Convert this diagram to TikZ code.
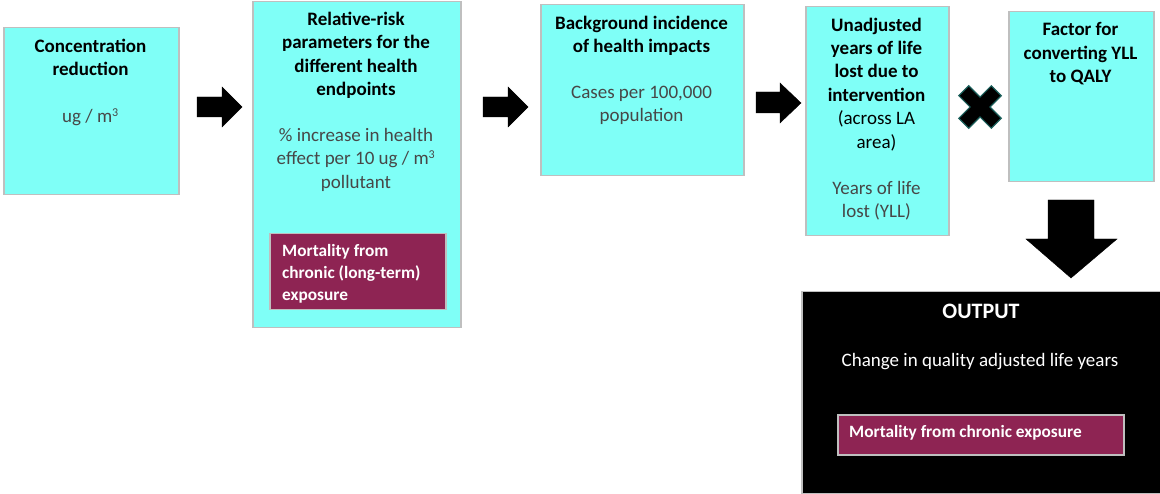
\documentclass[tikz,border=0pt]{standalone}
\usepackage{fontspec}
\setmainfont{Carlito}
\definecolor{boxcyan}{HTML}{7FFFF7}
\definecolor{boxedge}{HTML}{BFBFBF}
\definecolor{plum}{HTML}{8E2453}
\definecolor{subgray}{HTML}{474747}
\definecolor{xedge}{HTML}{1A5E5A}
\begin{document}
\begin{tikzpicture}[x=1pt,y=-1pt,
  box/.style={draw=boxedge, line width=1.5pt, fill=boxcyan, inner sep=0pt, anchor=north west},
  plumbox/.style={draw=boxedge, line width=1.5pt, fill=plum, inner sep=0pt, anchor=north west},
  outbox/.style={draw=boxedge, line width=1.5pt, fill=black, inner sep=0pt, anchor=north west},
  ttl/.style={font=\bfseries\fontsize{19}{23.4}\selectfont, align=center, inner sep=0pt, anchor=north},
  sub/.style={font=\fontsize{19}{23.4}\selectfont, text=subgray, align=center, inner sep=0pt, anchor=north},
  plumtxt/.style={font=\bfseries\fontsize{17.3}{21.7}\selectfont, text=white, align=left, inner sep=0pt, anchor=north west},
  blockarrow/.style={fill=black}
]
\useasboundingbox (0,0) rectangle (1160,494);
% boxes
\node[box, minimum width=175pt, minimum height=167pt] (b1) at (3,27) {};
\node[box, minimum width=208pt, minimum height=326pt] (b2) at (252,1) {};
\node[plumbox, minimum width=176pt, minimum height=76pt] (p1) at (269,233) {};
\node[box, minimum width=203pt, minimum height=171pt] (b3) at (540,4) {};
\node[box, minimum width=143pt, minimum height=229pt] (b4) at (805,6) {};
\node[box, minimum width=145pt, minimum height=170pt] (b5) at (1008,11) {};
\node[outbox, minimum width=362pt, minimum height=202pt] (out) at (801,291) {};
\node[plumbox, minimum width=286pt, minimum height=40pt] (p2) at (837,414) {};
% texts
\node[ttl] (t1) at (90.5,38.5) {Concentration\\reduction};
\node[sub] (s1) at (90.5,108.5) {ug / m\textsuperscript{\fontsize{12}{12}\selectfont 3}};
\node[ttl] (t2) at (356,12) {Relative-risk\\parameters for the\\different health\\endpoints};
\node[sub] (s2) at (356,128) {\% increase in health\\effect per 10 ug / m\textsuperscript{\fontsize{12}{12}\selectfont 3}\\pollutant};
\node[plumtxt] (pt1) at (282,244.5) {Mortality from\\chronic (long-term)\\exposure};
\node[ttl] (t3) at (641.5,16) {Background incidence\\of health impacts};
\node[sub] (s3) at (641.5,85.5) {Cases per 100,000\\population};
\node[ttl] (t4) at (876.5,17.5) {Unadjusted\\years of life\\lost due to\\intervention\\\mdseries (across LA\\\mdseries area)};
\node[sub] (s4) at (876.5,181) {Years of life\\lost (YLL)};
\node[ttl] (t5) at (1080.5,22.5) {Factor for\\converting YLL\\to QALY};
\node[ttl, font=\bfseries\fontsize{22}{26}\selectfont, text=white] (to) at (981,304) {OUTPUT};
\node[sub, text=white] (so) at (980,353.5) {Change in quality adjusted life years};
\node[plumtxt] (pt2) at (849,425.5) {Mortality from chronic exposure};
% block arrows
\draw[blockarrow] (197,97) -- (222,97) -- (222,87) -- (242,107) -- (222,127) -- (222,117) -- (197,117) -- cycle;
\draw[blockarrow] (483,97) -- (508,97) -- (508,87) -- (528,107) -- (508,127) -- (508,117) -- (483,117) -- cycle;
\draw[blockarrow] (756,92) -- (780,92) -- (780,83) -- (801,103) -- (780,123) -- (780,113) -- (756,113) -- cycle;
\draw[blockarrow] (1048,200) -- (1094,200) -- (1094,239) -- (1117,239) -- (1071,278) -- (1026,239) -- (1048,239) -- cycle;
% multiply sign
\draw[fill=black, draw=xedge, line width=1.2pt, shift={(980,107)}, rotate=45]
  (7,23) -- (7,7) -- (23,7) -- (23,-7) -- (7,-7) -- (7,-23) -- (-7,-23) -- (-7,-7) -- (-23,-7) -- (-23,7) -- (-7,7) -- (-7,23) -- cycle;
\end{tikzpicture}
\end{document}
